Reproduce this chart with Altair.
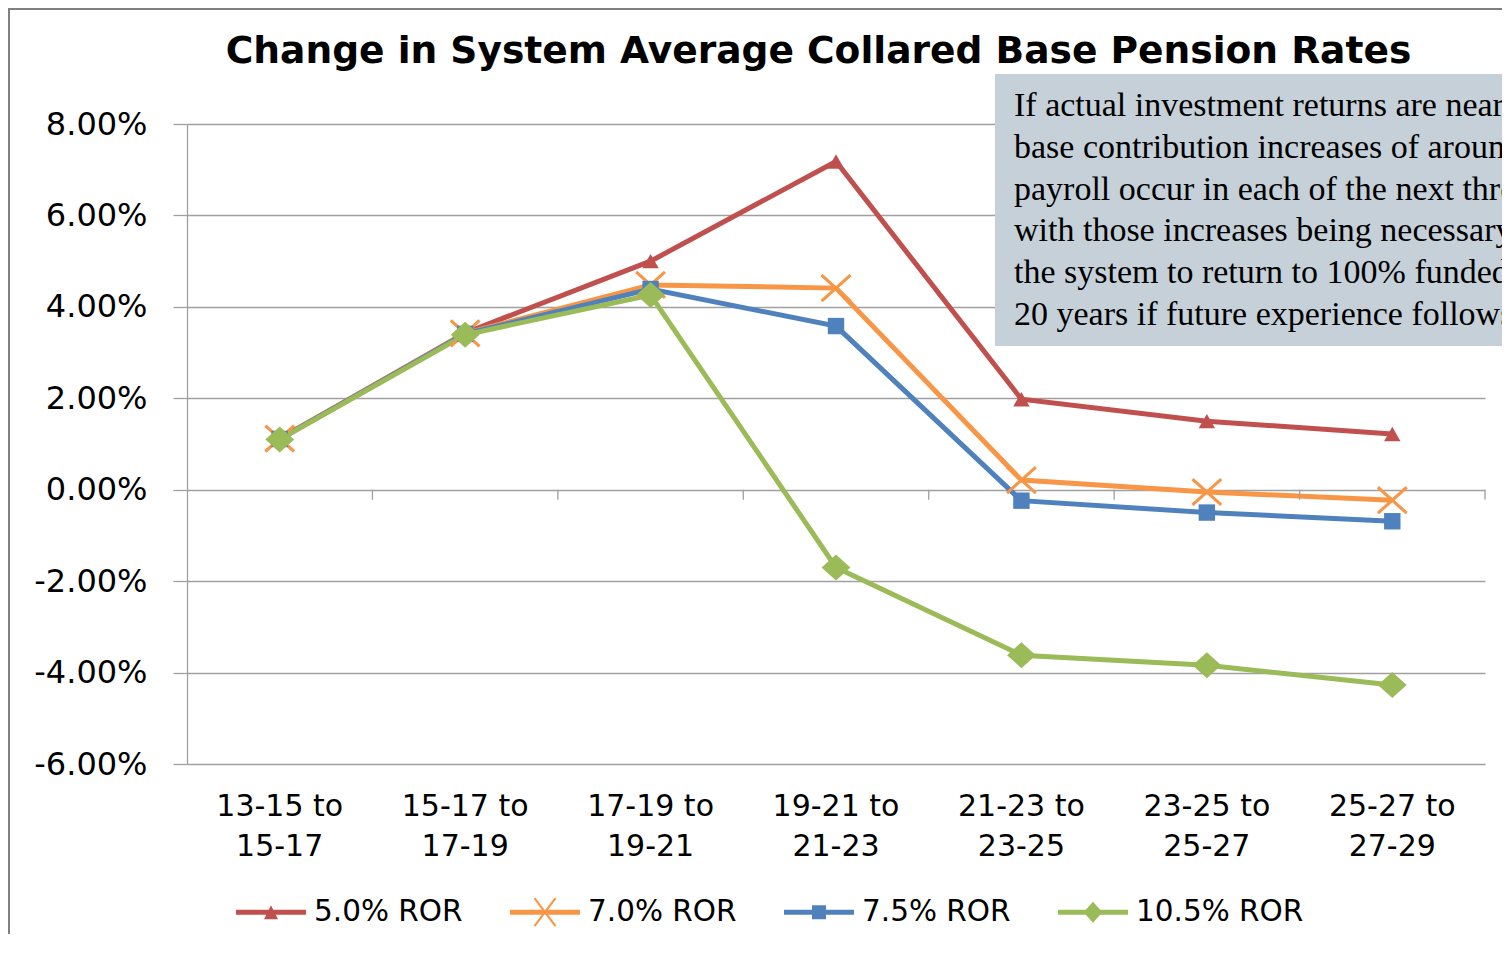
import math
import altair as alt
import pandas as pd

# ---------------- data ----------------
categories = ["13-15 to 15-17", "15-17 to 17-19", "17-19 to 19-21", "19-21 to 21-23",
              "21-23 to 23-25", "23-25 to 25-27", "25-27 to 27-29"]
series_names = ["5.0% ROR", "7.0% ROR", "7.5% ROR", "10.5% ROR"]
ror_5_0 = [1.11, 3.43, 5.00, 7.18, 1.98, 1.50, 1.22]
ror_7_0 = [1.12, 3.42, 4.48, 4.41, 0.21, -0.05, -0.23]
ror_7_5 = [1.11, 3.41, 4.39, 3.58, -0.24, -0.50, -0.69]
ror_10_5 = [1.10, 3.39, 4.26, -1.70, -3.62, -3.84, -4.27]
y_ticks = [-6, -4, -2, 0, 2, 4, 6, 8]
title_text = "Change in System Average Collared Base Pension Rates"
note_lines = [
    "If actual investment returns are near",
    "base contribution increases of around",
    "payroll occur in each of the next three",
    "with those increases being necessary",
    "the system to return to 100% funded",
    "20 years if future experience follows",
]

series_colors = ["#C0504D", "#F79646", "#4F81BD", "#9BBB59"]

rows = []
for name, vals in zip(series_names, [ror_5_0, ror_7_0, ror_7_5, ror_10_5]):
    for cat, v in zip(categories, vals):
        rows.append({"period": cat, "series": name, "value": v})
df = pd.DataFrame(rows)
cat_df = pd.DataFrame({"period": categories})
one = alt.Data(values=[{"k": 1}])

# ---------------- marker paths ----------------
def x_path(a, b, h):
    parts = []
    for (x1, y1, x2, y2) in [(-a, -b, a, b), (-a, b, a, -b)]:
        dx, dy = x2 - x1, y2 - y1
        ln = math.hypot(dx, dy)
        nx, ny = -dy * h / ln, dx * h / ln
        pts = [(x1 - nx, y1 - ny), (x2 - nx, y2 - ny), (x2 + nx, y2 + ny), (x1 + nx, y1 + ny)]
        parts.append("M" + " L".join(f"{px:.3f},{py:.3f}" for px, py in pts) + " Z")
    return " ".join(parts)

def tri(a, b):
    return f"M0,{-b} L{a},{b} L{-a},{b} Z"

def sq(a):
    return f"M{-a},{-a} H{a} V{a} H{-a} Z"

def dia(a, b):
    return f"M0,{-b} L{a},0 L0,{b} L{-a},0 Z"

marker_paths = [tri(0.57, 0.5), x_path(1.0, 0.9, 0.107), sq(0.57), dia(1.0, 0.9)]
bar = "M-1,-0.071 H1 V0.071 H-1 Z "
legend_paths = [bar + tri(0.2, 0.2), bar + x_path(0.3, 0.4, 0.03),
                bar + sq(0.2), bar + dia(0.27, 0.3)]

# ---------------- scales / axes ----------------
x_scale = alt.Scale(type="band", domain=categories, paddingInner=0, paddingOuter=0)
y_scale = alt.Scale(domain=[-6, 8], nice=False, zero=False)

FONT = "DejaVu Sans"
GRID = "#A0A0A0"

x_axis = alt.Axis(
    labelExpr="[slice(datum.label, 0, 8), slice(datum.label, 9)]",
    labelAngle=0, domain=False, ticks=False, grid=False, title=None,
    labelFont=FONT, labelFontSize=30, labelLineHeight=40, labelPadding=27,
    labelColor="black", labelLimit=400,
)
y_axis = alt.Axis(
    values=y_ticks, labelExpr="replace(format(datum.value / 100, '.2%'), '\u2212', '-')",
    grid=True, gridColor=GRID, gridWidth=1.3, tickSize=14, tickColor=GRID, tickWidth=1.3,
    domainColor=GRID, domainWidth=1.3, title=None,
    labelFont=FONT, labelFontSize=32, labelPadding=26, labelColor="black",
)

def color_enc(legend=None):
    sc = alt.Scale(domain=series_names, range=series_colors)
    if legend is None:
        return alt.Color("series:N", scale=sc, legend=None)
    return alt.Color("series:N", scale=sc, legend=legend)

X = alt.X("period:N", scale=x_scale, sort=categories, axis=x_axis)
Y = alt.Y("value:Q", scale=y_scale, axis=y_axis)

base = alt.Chart(df)

lines = base.mark_line(strokeWidth=5).encode(x=X, y=Y, color=color_enc())

points = base.mark_point(filled=True, size=830, opacity=1, strokeWidth=0).encode(
    x=X, y=Y, color=color_enc(),
    shape=alt.Shape("series:N", scale=alt.Scale(domain=series_names, range=marker_paths), legend=None),
)

leg = alt.Legend(
    orient="none", legendX=49, legendY=753, direction="horizontal", title=None,
    labelFont=FONT, labelFontSize=29.5, labelColor="black", labelOffset=8,
    columnPadding=47, symbolSize=4900, symbolStrokeWidth=0, padding=0, labelLimit=400,
)
legend_layer = base.mark_point(filled=True, size=4900, opacity=1, strokeWidth=0, clip=True).encode(
    x=X, y=alt.value(-3000), color=color_enc(leg),
    shape=alt.Shape("series:N", scale=alt.Scale(domain=series_names, range=legend_paths), legend=leg),
)

zero_ticks = alt.Chart(cat_df).mark_rule(color=GRID, strokeWidth=1.3, y2Offset=10).encode(
    x=alt.X("period:N", scale=x_scale, sort=categories, bandPosition=1, axis=x_axis),
    y=alt.datum(0, scale=y_scale, axis=y_axis),
    y2=alt.datum(0),
)

note_box = alt.Chart(one).mark_rect(color="#C6D0D8").encode(
    x=alt.value(808), x2=alt.value(1400), y=alt.value(-50), y2=alt.value(222)
)
note_text = alt.Chart(one).mark_text(
    font="Liberation Serif", fontSize=34, align="left", baseline="alphabetic",
    lineHeight=41.8, color="black",
).encode(x=alt.value(827), y=alt.value(-8), text=alt.value(note_lines))

title = alt.Chart(one).mark_text(
    font=FONT, fontSize=37.6, fontWeight="bold", align="center", baseline="alphabetic", color="black",
).encode(x=alt.value(631.5), y=alt.value(-61), text=alt.value(title_text))

frame_left = alt.Chart(one).mark_rule(color="#808080", strokeWidth=2).encode(
    x=alt.value(-178), y=alt.value(-116), y2=alt.value(820)
)
frame_top = alt.Chart(one).mark_rule(color="#808080", strokeWidth=2).encode(
    x=alt.value(-179), x2=alt.value(1330), y=alt.value(-115)
)

chart = alt.layer(
    lines, zero_ticks, points, legend_layer, note_box, note_text, title, frame_left, frame_top
).resolve_scale(
    color="independent", shape="independent"
).properties(
    width=1298, height=640,
    autosize=alt.AutoSizeParams(type="none"),
    padding={"left": 179, "top": 116, "right": 17, "bottom": 170},
    background="white",
).configure_view(stroke="transparent")

chart.save("out.html", embed_options={"renderer": "svg", "actions": False})
